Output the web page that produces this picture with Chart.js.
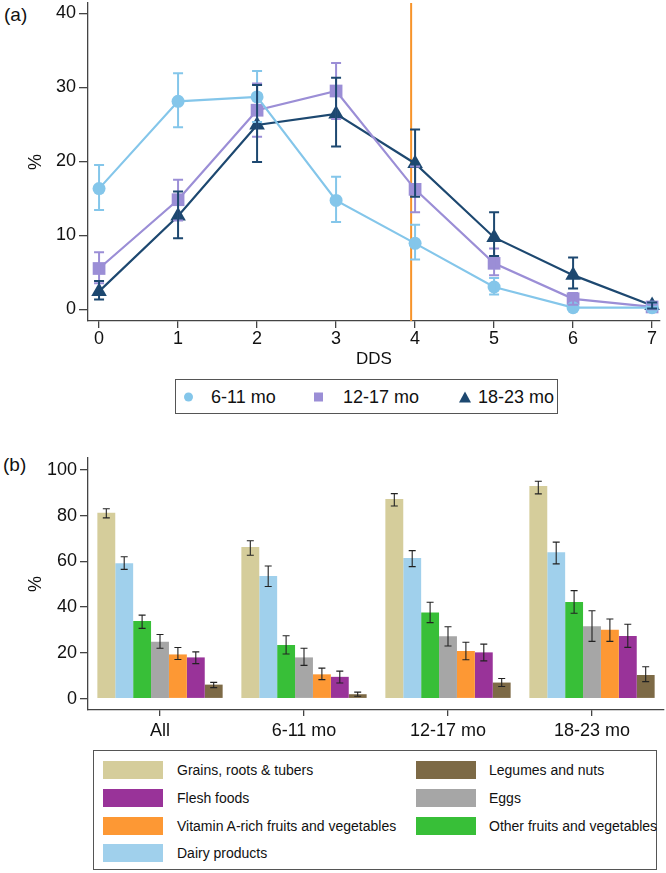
<!DOCTYPE html>
<html>
<head>
<meta charset="utf-8">
<script src="https://cdn.jsdelivr.net/npm/chart.js@4.4.1/dist/chart.umd.min.js"></script>
<style>
  body { margin: 0; background: #fff; font-family: "Liberation Sans", Arial, sans-serif; color: #111; }
  #page { position: relative; width: 666px; height: 873px; overflow: hidden; }
  canvas { position: absolute; left: 0; }
  .panel { position: absolute; font-size: 19px; }
  .box { position: absolute; border: 1px solid #555; box-sizing: border-box; background: #fff; }
  .item { position: absolute; white-space: nowrap; }
  .lgA { font-size: 18px; top: 50%; transform: translateY(-50%); }
  .lgB { font-size: 14px; }
  .sw { position: absolute; width: 60px; height: 18px; }
</style>
</head>
<body>
<div id="page">
  <div class="panel" style="left:4px;top:4px;">(a)</div>
  <div class="panel" style="left:3px;top:454px;">(b)</div>
  <canvas id="ddsChart" width="666" height="372" style="top:0;"></canvas>
  <canvas id="foodChart" width="666" height="305" style="top:440px;"></canvas>
  <div id="legendA" class="box" style="left:175px;top:379px;width:383px;height:35px;"></div>
  <div id="legendB" class="box" style="left:93px;top:750px;width:564px;height:120px;"></div>
</div>
<script>
// panel (a): % of children by dietary diversity score
const dds = [0, 1, 2, 3, 4, 5, 6, 7];
const ddsTicks = [0, 1, 2, 3, 4, 5, 6, 7];
const pctTicksA = [0, 10, 20, 30, 40];
const cutoff = 3.95;

const ageLabels = ['6-11 mo', '12-17 mo', '18-23 mo'];
const val611 = [16.3, 28.1, 28.7, 14.7, 8.9, 3.0, 0.2, 0.2];
const lo611 = [13.4, 24.6, 25.3, 11.8, 6.7, 2.0, 0.0, 0.0];
const hi611 = [19.5, 31.9, 32.2, 17.9, 11.4, 4.2, 0.6, 0.5];
const val1217 = [5.5, 14.8, 26.9, 29.5, 16.2, 6.2, 1.4, 0.3];
const lo1217 = [3.5, 12.0, 23.3, 25.7, 13.1, 4.6, 0.6, 0.0];
const hi1217 = [7.7, 17.5, 30.5, 33.3, 19.3, 8.2, 2.2, 0.6];
const val1823 = [2.4, 12.6, 24.9, 26.4, 19.7, 9.7, 4.6, 0.5];
const lo1823 = [1.3, 9.6, 19.9, 22.0, 15.2, 7.2, 2.8, 0.1];
const hi1823 = [3.8, 15.9, 30.3, 31.3, 24.3, 13.1, 7.0, 0.9];

// panel (b): % consuming each food group
const groups = ['All', '6-11 mo', '12-17 mo', '18-23 mo'];
const pctTicksB = [0, 20, 40, 60, 80, 100];
const grains = [81.3, 66.3, 87.3, 93.0];
const grainsLo = [79.0, 62.7, 84.2, 89.5];
const grainsHi = [83.0, 69.0, 89.6, 95.0];
const dairy = [59.2, 53.6, 61.5, 64.0];
const dairyLo = [56.5, 49.0, 57.7, 58.9];
const dairyHi = [62.0, 58.0, 64.7, 68.4];
const otherFV = [33.9, 23.4, 37.6, 42.2];
const otherFVLo = [30.7, 19.5, 33.2, 37.3];
const otherFVHi = [36.5, 27.5, 42.1, 47.2];
const eggs = [24.8, 18.0, 27.2, 31.6];
const eggsLo = [22.0, 14.5, 23.0, 25.0];
const eggsHi = [28.0, 22.0, 31.4, 38.4];
const vitA = [19.3, 10.6, 20.8, 30.1];
const vitALo = [17.1, 8.3, 17.0, 25.0];
const vitAHi = [22.3, 13.3, 24.6, 34.8];
const flesh = [18.0, 9.5, 20.2, 27.4];
const fleshLo = [15.3, 6.8, 16.5, 22.4];
const fleshHi = [20.4, 12.0, 23.8, 32.5];
const legumes = [6.1, 1.9, 7.0, 10.3];
const legumesLo = [4.8, 1.0, 5.3, 7.4];
const legumesHi = [7.1, 2.8, 8.8, 13.9];

const FONT = '"Liberation Sans", Arial, sans-serif';
const AXIS = '#444';
const ageColors = ['#84c6ea', '#9b8ed6', '#1d4870'];

// draws the confidence intervals stored on each dataset
const errorBars = {
  id: 'errorBars',
  afterDatasetsDraw(chart, args, opts) {
    const ctx = chart.ctx;
    const y = chart.scales.y;
    chart.data.datasets.forEach((ds, i) => {
      const meta = chart.getDatasetMeta(i);
      ctx.save();
      ctx.strokeStyle = opts.color || ds.borderColor;
      ctx.lineWidth = opts.width;
      meta.data.forEach((el, j) => {
        const x = el.x;
        const top = y.getPixelForValue(ds.hi[j]);
        const bot = y.getPixelForValue(ds.lo[j]);
        const c = opts.cap;
        ctx.beginPath();
        ctx.moveTo(x, top); ctx.lineTo(x, bot);
        ctx.moveTo(x - c, top); ctx.lineTo(x + c, top);
        ctx.moveTo(x - c, bot); ctx.lineTo(x + c, bot);
        ctx.stroke();
      });
      ctx.restore();
    });
  }
};

const cutoffLine = {
  id: 'cutoffLine',
  beforeDatasetsDraw(chart) {
    const {ctx, chartArea} = chart;
    const x = chart.scales.x.getPixelForValue(cutoff);
    ctx.save();
    ctx.strokeStyle = '#f7932a';
    ctx.lineWidth = 2;
    ctx.beginPath();
    ctx.moveTo(x, chartArea.top);
    ctx.lineTo(x, chartArea.bottom);
    ctx.stroke();
    ctx.restore();
  }
};

// keep the plot area where the axis lines are in the original
function noEdgePadding(s) {
  s.paddingTop = 0;
  s.paddingBottom = 0;
  s.paddingLeft = 0;
  s.paddingRight = 0;
}

function pts(vals) {
  return dds.map((d, i) => ({x: d, y: vals[i]}));
}

const markers = ['circle', 'rect', 'triangle'];
const radii = [6.5, 9, 9];
const series = [[val611, lo611, hi611], [val1217, lo1217, hi1217], [val1823, lo1823, hi1823]];

new Chart(document.getElementById('ddsChart'), {
  type: 'line',
  data: {
    datasets: series.map((s, k) => ({
      label: ageLabels[k],
      data: pts(s[0]),
      lo: s[1],
      hi: s[2],
      borderColor: ageColors[k],
      backgroundColor: ageColors[k],
      borderWidth: 2.2,
      pointStyle: markers[k],
      pointRadius: radii[k],
      pointBorderWidth: 0,
      tension: 0,
      clip: false
    }))
  },
  options: {
    responsive: false,
    animation: false,
    devicePixelRatio: 1,
    layout: {autoPadding: false, padding: {left: 0, right: 6, top: 3, bottom: 0}},
    plugins: {
      legend: {display: false},
      tooltip: {enabled: false},
      errorBars: {width: 2, cap: 5}
    },
    scales: {
      x: {
        type: 'linear',
        min: -0.14,
        max: 7.1,
        afterBuildTicks: s => { s.ticks = ddsTicks.map(v => ({value: v})); },
        afterFit: s => { s.height = 51; noEdgePadding(s); },
        grid: {drawOnChartArea: false, tickLength: 7, color: AXIS, lineWidth: 1.3},
        border: {color: AXIS, width: 1.3},
        ticks: {font: {family: FONT, size: 18}, color: '#111', padding: 0, maxRotation: 0},
        title: {display: true, text: 'DDS', font: {family: FONT, size: 17}, color: '#111', padding: {top: 0, bottom: 2}}
      },
      y: {
        min: -1.6,
        max: 41.4,
        afterBuildTicks: s => { s.ticks = pctTicksA.map(v => ({value: v})); },
        afterFit: s => { s.width = 88; noEdgePadding(s); },
        grid: {drawOnChartArea: false, tickLength: 9, color: AXIS, lineWidth: 1.3},
        border: {color: AXIS, width: 1.3},
        ticks: {font: {family: FONT, size: 18}, color: '#111', padding: 3},
        title: {display: true, text: '%', font: {family: FONT, size: 18}, color: '#111', padding: {top: 25}}
      }
    }
  },
  plugins: [cutoffLine, errorBars]
});

const foodNames = ['Grains, roots & tubers', 'Dairy products', 'Other fruits and vegetables', 'Eggs',
  'Vitamin A-rich fruits and vegetables', 'Flesh foods', 'Legumes and nuts'];
const foodColors = ['#d5cd9b', '#a0d0ec', '#38bf38', '#a6a6a6', '#fd9834', '#993399', '#7d6a46'];
const foodVals = [[grains, grainsLo, grainsHi], [dairy, dairyLo, dairyHi], [otherFV, otherFVLo, otherFVHi],
  [eggs, eggsLo, eggsHi], [vitA, vitALo, vitAHi], [flesh, fleshLo, fleshHi], [legumes, legumesLo, legumesHi]];

new Chart(document.getElementById('foodChart'), {
  type: 'bar',
  data: {
    labels: groups,
    datasets: foodVals.map((f, k) => ({
      label: foodNames[k],
      data: f[0],
      lo: f[1],
      hi: f[2],
      backgroundColor: foodColors[k],
      borderWidth: 0,
      categoryPercentage: 0.87,
      barPercentage: 1.0
    }))
  },
  options: {
    responsive: false,
    animation: false,
    devicePixelRatio: 1,
    layout: {autoPadding: false, padding: {left: 0, right: 2, top: 18, bottom: 0}},
    plugins: {
      legend: {display: false},
      tooltip: {enabled: false},
      errorBars: {width: 1.1, cap: 3.5, color: '#222'}
    },
    scales: {
      x: {
        afterFit: s => { s.height = 35; noEdgePadding(s); },
        grid: {drawOnChartArea: false, tickLength: 6, color: AXIS, lineWidth: 1.3, offset: false},
        border: {color: AXIS, width: 1.3},
        ticks: {font: {family: FONT, size: 18}, color: '#111', padding: 4, maxRotation: 0}
      },
      y: {
        min: -5,
        max: 105.2,
        afterBuildTicks: s => { s.ticks = pctTicksB.map(v => ({value: v})); },
        afterFit: s => { s.width = 88; noEdgePadding(s); },
        grid: {drawOnChartArea: false, tickLength: 8, color: AXIS, lineWidth: 1.3},
        border: {color: AXIS, width: 1.3},
        ticks: {font: {family: FONT, size: 18}, color: '#111', padding: 3},
        title: {display: true, text: '%', font: {family: FONT, size: 18}, color: '#111', padding: {top: 25}}
      }
    }
  },
  plugins: [errorBars]
});

// legend (a)
const legendA = document.getElementById('legendA');
const markerCss = [
  'width:9px;height:9px;border-radius:50%;',
  'width:9px;height:9px;',
  'width:0;height:0;border-left:6px solid transparent;border-right:6px solid transparent;'
];
const lgAx = [13, 143, 288];
const lgAtext = [35, 167, 302];
ageLabels.forEach((lab, k) => {
  const m = document.createElement('div');
  m.className = 'item lgA';
  const css = k === 2 ? markerCss[k] + 'border-bottom:11px solid ' + ageColors[k] + ';' : markerCss[k] + 'background:' + ageColors[k] + ';';
  m.style.cssText = 'left:' + (lgAx[k] - 5) + 'px;' + css;
  legendA.appendChild(m);
  const t = document.createElement('div');
  t.className = 'item lgA';
  t.style.left = lgAtext[k] + 'px';
  t.textContent = lab;
  legendA.appendChild(t);
});

// legend (b): two columns, same order as the original figure
const legendOrder = [[0, 5, 4, 1], [6, 3, 2]];
legendOrder.forEach((col, c) => {
  col.forEach((k, r) => {
    const sw = document.createElement('div');
    sw.className = 'sw';
    sw.style.left = (c === 0 ? 9 : 322) + 'px';
    sw.style.top = (10 + r * 27.8) + 'px';
    sw.style.background = foodColors[k];
    legendB.appendChild(sw);
    const t = document.createElement('div');
    t.className = 'item lgB';
    t.style.left = (c === 0 ? 83 : 395) + 'px';
    t.style.top = (11 + r * 27.8) + 'px';
    t.textContent = foodNames[k];
    legendB.appendChild(t);
  });
});
</script>
</body>
</html>
